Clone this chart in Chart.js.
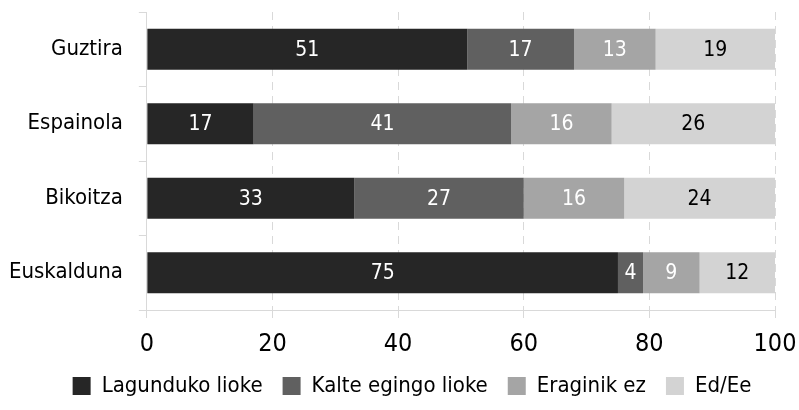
<!DOCTYPE html>
<html>
<head>
<meta charset="utf-8">
<script src="https://cdn.jsdelivr.net/npm/chart.js@4.4.1/dist/chart.umd.min.js"></script>
<style>
  html, body { margin: 0; padding: 0; background: #fff; }
  #wrap { width: 799px; height: 410px; }
</style>
</head>
<body>
<div id="wrap"><canvas id="id_graph"></canvas></div>
<script>
  // Datos
  var categories = ['Guztira', 'Espainola', 'Bikoitza', 'Euskalduna'];
  var seriesNames = ['Lagunduko lioke', 'Kalte egingo lioke', 'Eraginik ez', 'Ed/Ee'];
  var lagunduko = [51, 17, 33, 75];
  var kalte = [17, 41, 27, 4];
  var eraginik = [13, 16, 16, 9];
  var edEe = [19, 26, 24, 12];
  var xTicks = [0, 20, 40, 60, 80, 100];

  var colors = ['#262626', '#606060', '#a5a5a5', '#d3d3d3'];
  var labelColors = ['#ffffff', '#ffffff', '#ffffff', '#000000'];
  var fontFamily = '"Liberation Sans Narrow", "DejaVu Sans Condensed", "Liberation Sans", sans-serif';

  // plugin sencillo para escribir los valores dentro de las barras
  var valueLabels = {
    id: 'valueLabels',
    afterDatasetsDraw: function (chart) {
      var ctx = chart.ctx;
      ctx.save();
      ctx.font = '21px ' + fontFamily;
      ctx.textAlign = 'center';
      ctx.textBaseline = 'middle';
      chart.data.datasets.forEach(function (ds, i) {
        chart.getDatasetMeta(i).data.forEach(function (bar, j) {
          var p = bar.getProps(['x', 'y', 'base'], true);
          ctx.fillStyle = labelColors[i];
          ctx.fillText(ds.data[j], (p.x + p.base) / 2, p.y + 1);
        });
      });
      ctx.restore();
    }
  };

  // mover un poco la leyenda a la derecha
  var legendShift = {
    id: 'legendShift',
    afterLayout: function (chart) {
      if (chart.legend) {
        chart.legend.left += 28;
        chart.legend.right += 28;
      }
    }
  };

  var allData = [lagunduko, kalte, eraginik, edEe];

  var ctx = document.getElementById('id_graph').getContext('2d');
  new Chart(ctx, {
    type: 'bar',
    data: {
      labels: categories,
      datasets: allData.map(function (d, i) {
        return {
          label: seriesNames[i],
          data: d,
          backgroundColor: colors[i],
          borderWidth: 0,
          barPercentage: 0.55,
          categoryPercentage: 1.0
        };
      })
    },
    plugins: [valueLabels, legendShift],
    options: {
      indexAxis: 'y',
      responsive: true,
      maintainAspectRatio: false,
      animation: false,
      layout: { padding: { left: -7, right: 24, top: 12, bottom: 3 } },
      scales: {
        x: {
          stacked: true,
          min: 0,
          max: 100,
          afterBuildTicks: function (axis) {
            axis.ticks = xTicks.map(function (v) { return { value: v }; });
          },
          afterFit: function (scale) {
            scale.paddingRight = 0;
            scale.height -= 15;
          },
          grid: {
            color: '#d9d9d9',
            tickBorderDash: [],
            tickLength: 8,
            lineWidth: 1
          },
          border: { display: true, color: '#d9d9d9', dash: [8, 6] },
          ticks: {
            color: '#000',
            padding: 11,
            font: { family: fontFamily, size: 25 }
          }
        },
        y: {
          stacked: true,
          afterFit: function (scale) {
            scale.paddingTop = 0;
            scale.paddingBottom = 0;
          },
          grid: {
            drawOnChartArea: false,
            color: '#d9d9d9',
            tickLength: 8,
            offset: true
          },
          border: { display: true, color: '#d9d9d9' },
          ticks: {
            color: '#000',
            padding: 16,
            font: { family: fontFamily, size: 22 }
          }
        }
      },
      plugins: {
        legend: {
          position: 'bottom',
          labels: {
            color: '#000',
            boxWidth: 18,
            boxHeight: 18,
            padding: 20,
            font: { family: fontFamily, size: 22 }
          }
        },
        tooltip: { enabled: false }
      }
    }
  });
</script>
</body>
</html>
